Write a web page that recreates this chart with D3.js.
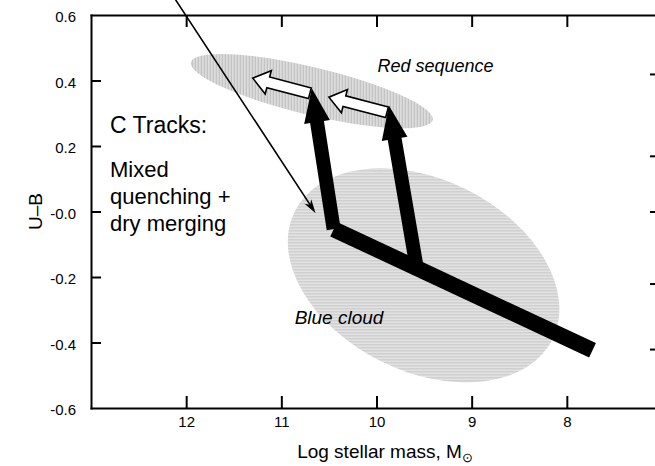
<!DOCTYPE html>
<html>
<head>
<meta charset="utf-8">
<script src="https://d3js.org/d3.v7.min.js"></script>
<style>
body { margin: 0; background: #fff; }
svg text { font-family: "Liberation Sans", Arial, sans-serif; fill: #000; }
.axis path, .axis line { stroke: #000; stroke-width: 2; }
.axis text { font-size: 15px; }
</style>
</head>
<body>
<svg width="655" height="466"></svg>
<script>
// axis ticks
var xTicks = [12, 11, 10, 9, 8];
var yTicks = [0.6, 0.4, 0.2, 0.0, -0.2, -0.4, -0.6];
var yTickLabels = ["0.6", "0.4", "0.2", "-0.0", "-0.2", "-0.4", "-0.6"];
var rightTicks = [0.42, 0.17, 0.0, -0.22, -0.42];

// galaxy regions: major axis ends (mass, U-B) and minor semi-axis in U-B
var regionNames = ["Red sequence", "Blue cloud"];
var regionStart = [[11.95, 0.456], [10.86, 0.0]];
var regionEnd = [[9.41, 0.279], [8.15, -0.39]];
var regionHalf = [0.073, 0.293];

// C tracks
var mainTrack = [[10.45, -0.054], [7.73, -0.424]];
var quenchFrom = [[10.45, -0.054], [9.58, -0.167]];
var quenchTo = [[10.68, 0.376], [9.87, 0.324]];
var mergeFrom = [[10.70, 0.361], [9.89, 0.303]];
var mergeTo = [[11.30, 0.407], [10.50, 0.349]];
var pointer = [[12.3, 0.73], [10.64, -0.005]];

var svg = d3.select("svg");

var x = d3.scaleLinear().domain([13, 7]).range([91, 662]);
var y = d3.scaleLinear().domain([-0.6, 0.6]).range([408, 15]);
var yPx = Math.abs(y(0) - y(1)); // pixels per U-B unit

var defs = svg.append("defs");

// regions, hatched (vertical for red sequence, horizontal for blue cloud)
regionNames.forEach(function(name, i) {
  var x0 = x(regionStart[i][0]), y0 = y(regionStart[i][1]);
  var x1 = x(regionEnd[i][0]), y1 = y(regionEnd[i][1]);
  var a = Math.hypot(x1 - x0, y1 - y0) / 2;
  var ang = Math.atan2(y1 - y0, x1 - x0) * 180 / Math.PI;

  var pat = defs.append("pattern").attr("id", "hatch" + i)
      .attr("patternUnits", "userSpaceOnUse").attr("width", 3).attr("height", 3)
      .attr("patternTransform", "rotate(" + (-ang) + ")");
  pat.append("rect").attr("width", 3).attr("height", 3).attr("fill", i === 0 ? "#dcdcdc" : "#e2e2e2");
  if (i === 0) pat.append("rect").attr("width", 1).attr("height", 3).attr("fill", "#bcbcbc");
  else pat.append("rect").attr("width", 3).attr("height", 1).attr("fill", "#c6c6c6");

  svg.append("ellipse")
      .attr("transform", "translate(" + (x0 + x1) / 2 + "," + (y0 + y1) / 2 + ") rotate(" + ang + ")")
      .attr("rx", a)
      .attr("ry", regionHalf[i] * yPx)
      .attr("fill", "url(#hatch" + i + ")");
});

// axes (ticks point inward)
svg.append("g").attr("class", "axis").attr("transform", "translate(0," + y(-0.6) + ")")
    .call(d3.axisBottom(x).tickValues(xTicks).tickSizeInner(-12).tickSizeOuter(0).tickPadding(8).tickFormat(d3.format("d")));
svg.append("g").attr("class", "axis").attr("transform", "translate(0," + y(0.6) + ")")
    .call(d3.axisTop(x).tickValues(xTicks).tickSizeInner(-12).tickSizeOuter(0).tickFormat(""));
var gL = svg.append("g").attr("class", "axis").attr("transform", "translate(" + x(13) + ",0)")
    .call(d3.axisLeft(y).tickValues(yTicks).tickSizeInner(-10).tickSizeOuter(0).tickPadding(15)
      .tickFormat(function(d, i) { return yTickLabels[i]; }));
gL.selectAll("text").attr("dy", "0.45em");
gL.selectAll(".tick line").filter(function(d) { return d === 0.6 || d === -0.6; }).remove();
svg.append("g").attr("class", "axis").attr("transform", "translate(" + x(7) + ",0)")
    .call(d3.axisRight(y).tickValues(rightTicks).tickSizeInner(-12).tickSizeOuter(0).tickFormat(""));
svg.selectAll(".axis .domain").attr("stroke-linecap", "square");

// arrow polygon in pixel space
function arrow(p0, p1, sh, hh, hl) {
  var dx = p1[0] - p0[0], dy = p1[1] - p0[1], L = Math.hypot(dx, dy);
  var ux = dx / L, uy = dy / L, nx = -uy, ny = ux;
  var bx = p1[0] - ux * hl, by = p1[1] - uy * hl;
  return [
    [p0[0] + nx * sh, p0[1] + ny * sh],
    [bx + nx * sh, by + ny * sh],
    [bx + nx * hh, by + ny * hh],
    [p1[0], p1[1]],
    [bx - nx * hh, by - ny * hh],
    [bx - nx * sh, by - ny * sh],
    [p0[0] - nx * sh, p0[1] - ny * sh]
  ];
}
function px(p) { return [x(p[0]), y(p[1])]; }

// main track
svg.append("line")
    .attr("x1", x(mainTrack[0][0])).attr("y1", y(mainTrack[0][1]))
    .attr("x2", x(mainTrack[1][0])).attr("y2", y(mainTrack[1][1]))
    .attr("stroke", "#000").attr("stroke-width", 16);

// quenching (thick) arrows
quenchFrom.forEach(function(p, i) {
  svg.append("polygon")
      .attr("points", arrow(px(p), px(quenchTo[i]), 7, 13, 34).join(" "))
      .attr("fill", "#000");
});

// dry merging (hollow) arrows
mergeFrom.forEach(function(p, i) {
  svg.append("polygon")
      .attr("points", arrow(px(p), px(mergeTo[i]), 5.5, 12, 16).join(" "))
      .attr("fill", "#fff").attr("stroke", "#000").attr("stroke-width", 1.6)
      .attr("stroke-linejoin", "miter");
});

// thin pointer
var q0 = px(pointer[0]), q1 = px(pointer[1]);
var pdx = q1[0] - q0[0], pdy = q1[1] - q0[1], pl = Math.hypot(pdx, pdy);
var pux = pdx / pl, puy = pdy / pl;
svg.append("line")
    .attr("x1", q0[0]).attr("y1", q0[1])
    .attr("x2", q1[0] - pux * 6).attr("y2", q1[1] - puy * 6)
    .attr("stroke", "#000").attr("stroke-width", 1.6);
var hb = [q1[0] - pux * 14, q1[1] - puy * 14];
svg.append("polygon")
    .attr("points", [
      [hb[0] - puy * 4, hb[1] + pux * 4], q1, [hb[0] + puy * 4, hb[1] - pux * 4],
      [q1[0] - pux * 10, q1[1] - puy * 10]
    ].join(" "))
    .attr("fill", "#000");

// labels
svg.append("text").attr("x", x(9.99)).attr("y", y(0.425))
    .attr("font-size", 18).attr("font-style", "italic").text(regionNames[0]);
svg.append("text").attr("x", x(10.86)).attr("y", y(-0.344))
    .attr("font-size", 19).attr("font-style", "italic").text(regionNames[1]);

var note = svg.append("g").attr("font-size", 22);
note.append("text").attr("x", x(12.8)).attr("y", y(0.239)).attr("font-size", 23).text("C Tracks:");
["Mixed", "quenching +", "dry merging"].forEach(function(t, i) {
  note.append("text").attr("x", x(12.8)).attr("y", y(0.104) + i * 27).text(t);
});

// axis titles
var xt = svg.append("text").attr("x", 385).attr("y", 458).attr("text-anchor", "middle").attr("font-size", 19);
xt.append("tspan").text("Log stellar mass, M");
xt.append("tspan").attr("dy", 4).attr("font-size", 13).text("\u2299");
svg.append("text")
    .attr("transform", "translate(42," + y(0) + ") rotate(-90)")
    .attr("text-anchor", "middle").attr("font-size", 19).text("U\u2013B");
</script>
</body>
</html>
